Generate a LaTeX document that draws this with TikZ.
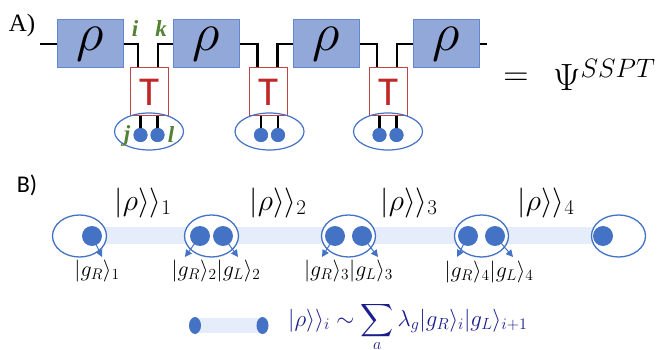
\RequirePackage{fix-cm}
\documentclass[tikz,border=0pt]{standalone}
\usepackage{amsmath}
\usepackage{fontspec}
\DeclareFontShape{OMX}{cmex}{m}{n}{<->cmex10}{}
\newfontfamily\carl{Carlito}
\newfontfamily\tnr{Liberation Serif}
\usetikzlibrary{arrows.meta,shapes.geometric}
\definecolor{rhofill}{RGB}{146,168,216}
\definecolor{rhodraw}{RGB}{100,135,210}
\definecolor{tred}{RGB}{192,40,40}
\definecolor{tborder}{RGB}{190,70,70}
\definecolor{idxgreen}{RGB}{84,130,53}
\definecolor{eblue}{RGB}{68,114,196}
\definecolor{bandcol}{RGB}{230,237,250}
\definecolor{navy}{RGB}{25,30,140}
\newcommand\fsz[1]{\fontsize{#1}{#1}\selectfont}
\begin{document}
\begin{tikzpicture}[x=1pt,y=-1pt,
  rhobox/.style={draw=rhodraw,fill=rhofill,line width=1pt,minimum width=66pt,minimum height=48pt,inner sep=0pt,font=\fsz{54}},
  tbox/.style={draw=tborder,fill=white,line width=1pt,minimum width=38pt,minimum height=48pt,inner sep=0pt,text=tred,font=\carl\fsz{41}},
  wire/.style={line width=2.5pt,line join=miter},
  aell/.style={ellipse,draw=eblue,line width=1.2pt,minimum width=69pt,minimum height=37pt,inner sep=0pt},
  adot/.style={circle,fill=eblue,minimum size=14pt,inner sep=0pt},
  idx/.style={text=idxgreen,font=\tnr\bfseries\itshape\fsz{23},inner sep=0pt},
  bell/.style={ellipse,draw=eblue,fill=white,line width=1.3pt,minimum width=54pt,minimum height=42pt,inner sep=0pt},
  bdot/.style={circle,fill=eblue,minimum size=20pt,inner sep=0pt},
  arr/.style={draw=eblue,line width=1pt,-{Triangle[length=7pt,width=7pt]}},
  ket/.style={font=\fsz{22},inner sep=0pt},
  rket/.style={font=\fsz{30},inner sep=0pt},
  lbl/.style={inner sep=0pt}]
\useasboundingbox (0,0) rectangle (670,350);

% ---------- Part A ----------
\node[lbl,font=\tnr\fsz{25}] (la) at (22,25) {A)};
\node[rhobox] (r1) at (90,44) {$\rho$};
\node[rhobox] (r2) at (206,44) {$\rho$};
\node[rhobox] (r3) at (326,44) {$\rho$};
\node[rhobox] (r4) at (446,44) {$\rho$};
\node[tbox] (t1) at (149,92) {T};
\node[tbox] (t2) at (268.5,92) {T};
\node[tbox] (t3) at (388,92) {T};
\coordinate (a0) at (40,44);
\coordinate (a9) at (487,44);
\draw[wire] (a0) -- (r1.west);
\draw[wire] (r4.east) -- (a9);
\foreach \r/\t/\s in {r1/t1/r2,r2/t2/r3,r3/t3/r4}{
  \draw[wire] (\r.east) -| ([xshift=-11pt]\t.north);
  \draw[wire] ([xshift=9pt]\t.north) |- (\s.west);
}
\foreach \t/\c in {t1/149,t2/269.5,t3/388}{
  \node[aell] (e\t) at (\c,131.5) {};
  \node[adot] (dl\t) at (\c-8.5,135) {};
  \node[adot] (dr\t) at (\c+8.5,135) {};
  \draw[wire] (dl\t |- \t.south) -- (dl\t.center);
  \draw[wire] (dr\t |- \t.south) -- (dr\t.center);
  \node[adot] at (dl\t) {};
  \node[adot] at (dr\t) {};
}
\node[idx] (li) at (135,29) {i};
\node[idx] (lk) at (161,29) {k};
\node[idx] (lj) at (127,136) {j};
\node[idx] (ll) at (171,135) {l};
\node[lbl,font=\fsz{35}] (eq) at (516,79) {$=$};
\node[lbl,font=\fsz{38},anchor=base west] (psi) at (553,91) {$\Psi^{SSPT}$};

% ---------- Part B ----------
\node[lbl,font=\carl\fsz{24}] (lb) at (27,185) {B)};
\fill[bandcol] (92,227) rectangle (603,244);
\node[bell] (b1) at (79.5,236) {};
\node[bell] (b2) at (211.5,236) {};
\node[bell] (b3) at (348.5,236) {};
\node[bell] (b4) at (481.5,236) {};
\node[bell] (b5) at (618.5,236) {};
\node[bdot] (d1) at (92,236) {};
\node[bdot] (d2l) at (200,236) {};
\node[bdot] (d2r) at (223,236) {};
\node[bdot] (d3l) at (335,236) {};
\node[bdot] (d3r) at (362,236) {};
\node[bdot] (d4l) at (468,236) {};
\node[bdot] (d4r) at (495,236) {};
\node[bdot] (d5) at (603,236) {};
\coordinate (p1) at (102,257);
\coordinate (p2l) at (185,257);
\coordinate (p2r) at (238,257);
\coordinate (p3l) at (322,257);
\coordinate (p3r) at (378,257);
\coordinate (p4l) at (457,257);
\coordinate (p4r) at (513,257);
\draw[arr] (d1.center) -- (p1);
\draw[arr] (d2l.center) -- (p2l);
\draw[arr] (d2r.center) -- (p2r);
\draw[arr] (d3l.center) -- (p3l);
\draw[arr] (d3r.center) -- (p3r);
\draw[arr] (d4l.center) -- (p4l);
\draw[arr] (d4r.center) -- (p4r);
\node[ket] (k1) at (97,271) {$|g_R\rangle_1$};
\node[ket] (k2) at (216,271) {$|g_R\rangle_2|g_L\rangle_2$};
\node[ket] (k3) at (348.5,271) {$|g_R\rangle_3|g_L\rangle_3$};
\node[ket] (k4) at (489,272) {$|g_R\rangle_4|g_L\rangle_4$};
\node[rket] (q1) at (143,203) {$|\rho\rangle\rangle_1$};
\node[rket] (q2) at (278,203) {$|\rho\rangle\rangle_2$};
\node[rket] (q3) at (409,203) {$|\rho\rangle\rangle_3$};
\node[rket] (q4) at (546,203) {$|\rho\rangle\rangle_4$};

% ---------- legend ----------
\fill[bandcol] (195,318) rectangle (262.5,333);
\node[ellipse,fill=eblue,minimum width=12pt,minimum height=17pt,inner sep=0pt] (le1) at (195,325.5) {};
\node[ellipse,fill=eblue,minimum width=12pt,minimum height=17pt,inner sep=0pt] (le2) at (262.5,325.5) {};
\node[lbl,text=navy,font=\fsz{23},anchor=base west] (leg) at (288,326) {$|\rho\rangle\rangle_i\sim\displaystyle\sum_{\raisebox{7pt}[0pt][0pt]{$\scriptstyle a$}}\lambda_g|g_R\rangle_i|g_L\rangle_{i+1}$};
\end{tikzpicture}
\end{document}
